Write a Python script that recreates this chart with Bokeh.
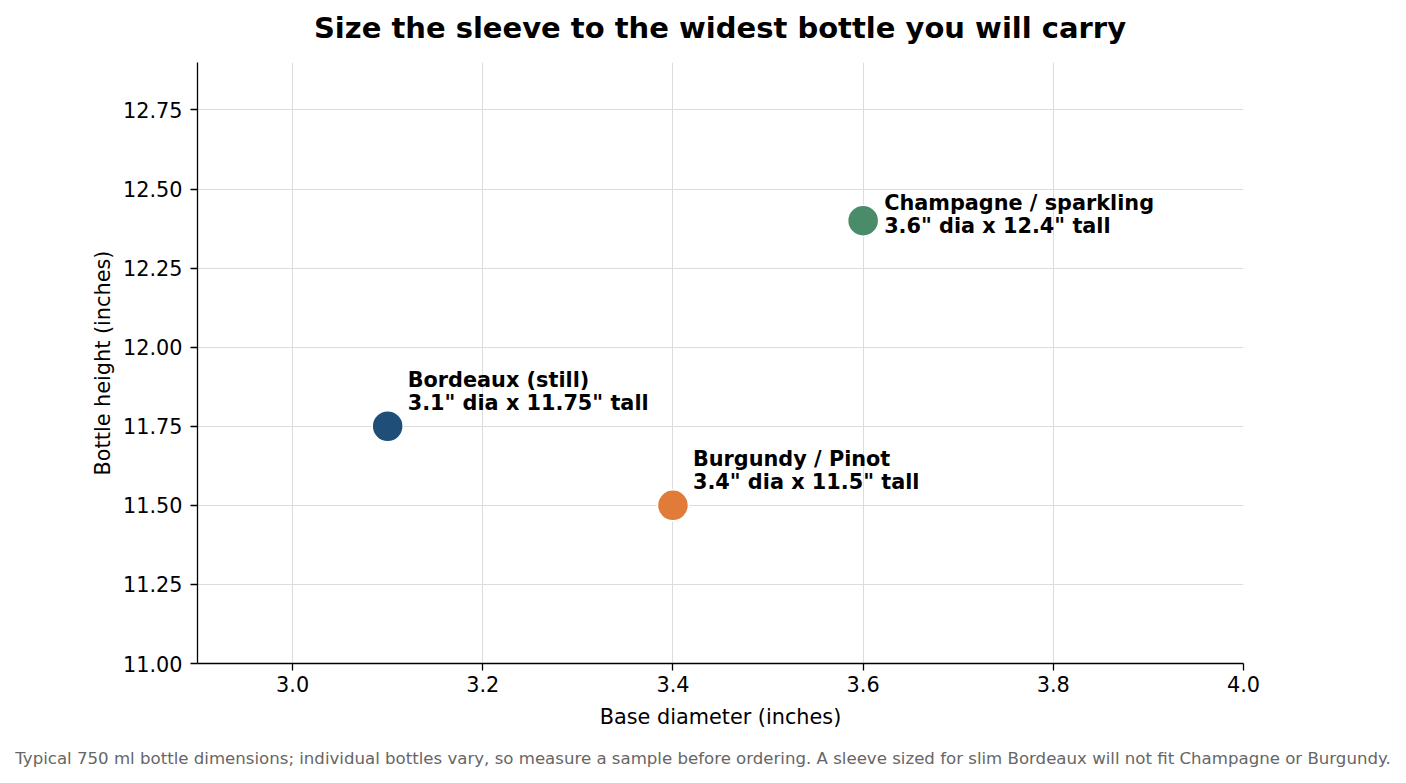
# Wine bottle sizes: diameter vs height scatter
from bokeh.plotting import figure
from bokeh.models import (ColumnDataSource, FixedTicker, PrintfTickFormatter, Div,
                          Range1d, CDSView, IndexFilter)
from bokeh.layouts import column
from bokeh.core.properties import value
from bokeh.embed import file_html
from bokeh.resources import INLINE

# data
bottles = ["Bordeaux (still)", "Burgundy / Pinot", "Champagne / sparkling"]
diameters = [3.1, 3.4, 3.6]
heights = [11.75, 11.5, 12.4]
colors = ["#1f4e79", "#e07b39", "#4a8c6a"]
x_ticks = [3.0, 3.2, 3.4, 3.6, 3.8, 4.0]
y_ticks = [11.0, 11.25, 11.5, 11.75, 12.0, 12.25, 12.5, 12.75]

labels = [f'{b}\n{d}" dia x {h}" tall' for b, d, h in zip(bottles, diameters, heights)]
src = ColumnDataSource(dict(x=diameters, y=heights, color=colors, label=labels))

FONT = "DejaVu Sans"
W = 1406
LEFT, RIGHT = 197, 1243   # frame edges on the page

title = Div(text="Size the sleeve to the widest bottle you will carry",
            width=RIGHT - LEFT, height=54, margin=(0, 0, 0, LEFT),
            styles={"text-align": "center", "font-family": FONT, "font-size": "29px",
                    "font-weight": "bold", "color": "black", "line-height": "56px",
                    "width": f"{RIGHT - LEFT}px", "white-space": "nowrap"})

p = figure(width=W, height=694, output_backend="svg", toolbar_location=None,
           x_range=Range1d(2.9, 4.0), y_range=Range1d(11.0, 12.9),
           min_border_left=LEFT, min_border_right=W - RIGHT, min_border_top=8, min_border_bottom=85)
p.outline_line_color = None

p.scatter("x", "y", source=src, size=31, fill_color="color", line_color="white", line_width=1.5)

label_style = dict(text_font=value(FONT), text_font_size="20.8px", text_font_style="bold",
                   text_color="black", text_baseline="middle", text_align="left",
                   text_line_height=0.96)
# labels sitting above their points
p.text("x", "y", text="label", source=src, view=CDSView(filter=IndexFilter([0, 1])),
       x_offset=20, y_offset=-35, **label_style)
# label beside its point
p.text("x", "y", text="label", source=src, view=CDSView(filter=IndexFilter([2])),
       x_offset=21, y_offset=-6, **label_style)

for ax in (p.xaxis, p.yaxis):
    ax.axis_line_color = "black"
    ax.axis_line_width = 1.3
    ax.major_tick_line_color = "black"
    ax.major_tick_line_width = 1.3
    ax.major_tick_out = 7
    ax.major_tick_in = 0
    ax.minor_tick_line_color = None
    ax.major_label_text_font = FONT
    ax.major_label_text_font_size = "20.8px"
    ax.major_label_text_color = "black"
    ax.axis_label_text_font = FONT
    ax.axis_label_text_font_size = "20.8px"
    ax.axis_label_text_font_style = "normal"
    ax.axis_label_text_color = "black"

p.xaxis.ticker = FixedTicker(ticks=x_ticks)
p.yaxis.ticker = FixedTicker(ticks=y_ticks)
p.xaxis.formatter = PrintfTickFormatter(format="%.1f")
p.yaxis.formatter = PrintfTickFormatter(format="%.2f")
p.xaxis.axis_label = "Base diameter (inches)"
p.yaxis.axis_label = "Bottle height (inches)"
p.xaxis.major_label_standoff = 5
p.yaxis.major_label_standoff = 8
p.xaxis.axis_label_standoff = 10
p.yaxis.axis_label_standoff = 5

p.xgrid.ticker = FixedTicker(ticks=x_ticks)
p.ygrid.ticker = FixedTicker(ticks=y_ticks)
p.grid.grid_line_color = "#dcdcdc"
p.grid.grid_line_width = 1

caption = Div(
    text="Typical 750 ml bottle dimensions; individual bottles vary, so measure a sample "
         "before ordering. A sleeve sized for slim Bordeaux will not fit Champagne or Burgundy.",
    width=W, height=24, margin=(0, 0, 0, 0),
    styles={"text-align": "center", "font-family": FONT, "font-size": "16.6px",
            "color": "#666666", "line-height": "21px", "width": f"{W}px"})

layout = column(title, p, caption, spacing=0)
open("out.html", "w").write(file_html(layout, INLINE))
